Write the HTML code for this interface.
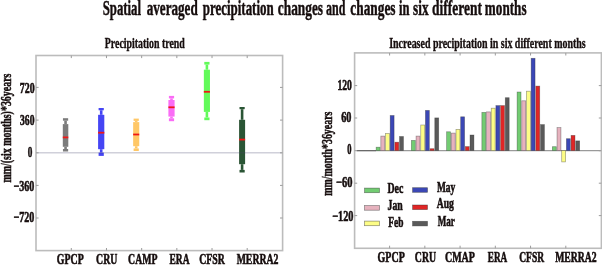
<!DOCTYPE html>
<html><head><meta charset="utf-8"><style>
html,body{margin:0;padding:0;background:#fff;width:602px;height:265px;overflow:hidden}
svg{display:block;will-change:transform}
body{-webkit-font-smoothing:antialiased}
text{font-family:"Liberation Serif",serif;font-weight:bold}
</style></head><body>
<svg width="602" height="265" viewBox="0 0 602 265">
<defs><filter id="bl" x="0" y="0" width="100%" height="100%"><feGaussianBlur stdDeviation="0.3"/></filter></defs>
<rect width="602" height="265" fill="#fff"/>
<g filter="url(#bl)">
<rect width="602" height="265" fill="#fff"/>
<text x="102.72" y="15.40" font-size="20.3" textLength="38.30" lengthAdjust="spacingAndGlyphs" fill="#160e0e" stroke="#160e0e" stroke-width="0.45">Spatial</text>
<text x="146.68" y="15.40" font-size="20.3" textLength="51.07" lengthAdjust="spacingAndGlyphs" fill="#160e0e" stroke="#160e0e" stroke-width="0.45">averaged</text>
<text x="202.74" y="15.40" font-size="20.3" textLength="70.96" lengthAdjust="spacingAndGlyphs" fill="#160e0e" stroke="#160e0e" stroke-width="0.45">precipitation</text>
<text x="277.84" y="15.40" font-size="20.3" textLength="45.18" lengthAdjust="spacingAndGlyphs" fill="#160e0e" stroke="#160e0e" stroke-width="0.45">changes</text>
<text x="326.01" y="15.40" font-size="20.3" textLength="19.32" lengthAdjust="spacingAndGlyphs" fill="#160e0e" stroke="#160e0e" stroke-width="0.45">and</text>
<text x="350.34" y="15.40" font-size="20.3" textLength="45.18" lengthAdjust="spacingAndGlyphs" fill="#160e0e" stroke="#160e0e" stroke-width="0.45">changes</text>
<text x="399.12" y="15.40" font-size="20.3" textLength="10.47" lengthAdjust="spacingAndGlyphs" fill="#160e0e" stroke="#160e0e" stroke-width="0.45">in</text>
<text x="413.10" y="15.40" font-size="20.3" textLength="15.47" lengthAdjust="spacingAndGlyphs" fill="#160e0e" stroke="#160e0e" stroke-width="0.45">six</text>
<text x="432.06" y="15.40" font-size="20.3" textLength="49.90" lengthAdjust="spacingAndGlyphs" fill="#160e0e" stroke="#160e0e" stroke-width="0.45">different</text>
<text x="484.85" y="15.40" font-size="20.3" textLength="41.67" lengthAdjust="spacingAndGlyphs" fill="#160e0e" stroke="#160e0e" stroke-width="0.45">months</text>
<text x="104.83" y="47.60" font-size="14" textLength="79.98" lengthAdjust="spacingAndGlyphs" fill="#160e0e" stroke="#160e0e" stroke-width="0.35">Precipitation trend</text>
<text x="389.17" y="47.60" font-size="14" textLength="196.58" lengthAdjust="spacingAndGlyphs" fill="#160e0e" stroke="#160e0e" stroke-width="0.35">Increased precipitation in six different months</text>
<rect x="62.95" y="118.20" width="5.2" height="2.50" fill="#7c7c7c"/>
<rect x="64.25" y="120.70" width="2.6" height="3.40" fill="#7c7c7c"/>
<rect x="62.80" y="124.10" width="5.5" height="22.70" fill="#7c7c7c"/>
<rect x="64.25" y="146.80" width="2.6" height="2.20" fill="#7c7c7c"/>
<rect x="62.95" y="149.00" width="5.2" height="2.50" fill="#7c7c7c"/>
<rect x="62.80" y="136.50" width="5.5" height="1.8" fill="#f01818"/>
<rect x="98.60" y="108.00" width="5.2" height="2.30" fill="#4444f4"/>
<rect x="99.90" y="110.30" width="2.6" height="4.50" fill="#4444f4"/>
<rect x="98.10" y="114.80" width="6.2" height="34.40" fill="#4444f4"/>
<rect x="99.90" y="149.20" width="2.6" height="3.40" fill="#4444f4"/>
<rect x="98.60" y="152.60" width="5.2" height="3.30" fill="#4444f4"/>
<rect x="98.10" y="131.80" width="6.2" height="1.8" fill="#f01818"/>
<rect x="133.60" y="118.60" width="5.2" height="2.30" fill="#ffc766"/>
<rect x="134.90" y="120.90" width="2.6" height="1.20" fill="#ffc766"/>
<rect x="133.15" y="122.10" width="6.1" height="24.10" fill="#ffc766"/>
<rect x="134.90" y="146.20" width="2.6" height="2.20" fill="#ffc766"/>
<rect x="133.60" y="148.40" width="5.2" height="2.60" fill="#ffc766"/>
<rect x="133.15" y="133.60" width="6.1" height="1.8" fill="#f01818"/>
<rect x="168.90" y="95.90" width="5.2" height="2.50" fill="#fa6cf6"/>
<rect x="170.20" y="98.40" width="2.6" height="1.60" fill="#fa6cf6"/>
<rect x="168.40" y="100.00" width="6.2" height="16.60" fill="#fa6cf6"/>
<rect x="170.20" y="116.60" width="2.6" height="1.70" fill="#fa6cf6"/>
<rect x="168.90" y="118.30" width="5.2" height="2.90" fill="#fa6cf6"/>
<rect x="168.40" y="106.40" width="6.2" height="1.8" fill="#f01818"/>
<rect x="204.30" y="61.90" width="5.2" height="2.70" fill="#62fa5a"/>
<rect x="205.60" y="64.60" width="2.6" height="5.10" fill="#62fa5a"/>
<rect x="203.85" y="69.70" width="6.1" height="42.20" fill="#62fa5a"/>
<rect x="205.60" y="111.90" width="2.6" height="5.60" fill="#62fa5a"/>
<rect x="204.30" y="117.50" width="5.2" height="2.70" fill="#62fa5a"/>
<rect x="203.85" y="90.90" width="6.1" height="1.8" fill="#f01818"/>
<rect x="239.50" y="107.00" width="5.2" height="2.20" fill="#2c5434"/>
<rect x="240.80" y="109.20" width="2.6" height="10.60" fill="#2c5434"/>
<rect x="239.10" y="119.80" width="6.0" height="44.40" fill="#2c5434"/>
<rect x="240.80" y="164.20" width="2.6" height="5.70" fill="#2c5434"/>
<rect x="239.50" y="169.90" width="5.2" height="2.60" fill="#2c5434"/>
<rect x="239.10" y="138.70" width="6.0" height="1.8" fill="#f01818"/>
<line x1="36.00" y1="152.7" x2="282.60" y2="152.7" stroke="rgb(67,67,107)" stroke-opacity="0.25" stroke-width="1.6"/>
<rect x="36.00" y="55.50" width="246.60" height="195.10" fill="none" stroke="#bcbcbc" stroke-width="1.6"/>
<line x1="71.30" y1="55.50" x2="71.30" y2="58.10" stroke="#9c9c9c" stroke-width="1"/>
<line x1="71.30" y1="250.60" x2="71.30" y2="248.00" stroke="#9c9c9c" stroke-width="1"/>
<line x1="106.48" y1="55.50" x2="106.48" y2="58.10" stroke="#9c9c9c" stroke-width="1"/>
<line x1="106.48" y1="250.60" x2="106.48" y2="248.00" stroke="#9c9c9c" stroke-width="1"/>
<line x1="141.66" y1="55.50" x2="141.66" y2="58.10" stroke="#9c9c9c" stroke-width="1"/>
<line x1="141.66" y1="250.60" x2="141.66" y2="248.00" stroke="#9c9c9c" stroke-width="1"/>
<line x1="176.84" y1="55.50" x2="176.84" y2="58.10" stroke="#9c9c9c" stroke-width="1"/>
<line x1="176.84" y1="250.60" x2="176.84" y2="248.00" stroke="#9c9c9c" stroke-width="1"/>
<line x1="212.02" y1="55.50" x2="212.02" y2="58.10" stroke="#9c9c9c" stroke-width="1"/>
<line x1="212.02" y1="250.60" x2="212.02" y2="248.00" stroke="#9c9c9c" stroke-width="1"/>
<line x1="247.20" y1="55.50" x2="247.20" y2="58.10" stroke="#9c9c9c" stroke-width="1"/>
<line x1="247.20" y1="250.60" x2="247.20" y2="248.00" stroke="#9c9c9c" stroke-width="1"/>
<line x1="36.00" y1="87.40" x2="38.60" y2="87.40" stroke="#9c9c9c" stroke-width="1"/>
<line x1="282.60" y1="87.40" x2="280.00" y2="87.40" stroke="#9c9c9c" stroke-width="1"/>
<line x1="36.00" y1="120.10" x2="38.60" y2="120.10" stroke="#9c9c9c" stroke-width="1"/>
<line x1="282.60" y1="120.10" x2="280.00" y2="120.10" stroke="#9c9c9c" stroke-width="1"/>
<line x1="36.00" y1="152.80" x2="38.60" y2="152.80" stroke="#9c9c9c" stroke-width="1"/>
<line x1="282.60" y1="152.80" x2="280.00" y2="152.80" stroke="#9c9c9c" stroke-width="1"/>
<line x1="36.00" y1="185.40" x2="38.60" y2="185.40" stroke="#9c9c9c" stroke-width="1"/>
<line x1="282.60" y1="185.40" x2="280.00" y2="185.40" stroke="#9c9c9c" stroke-width="1"/>
<line x1="36.00" y1="218.00" x2="38.60" y2="218.00" stroke="#9c9c9c" stroke-width="1"/>
<line x1="282.60" y1="218.00" x2="280.00" y2="218.00" stroke="#9c9c9c" stroke-width="1"/>
<text x="19.83" y="92.50" font-size="15" textLength="14.84" lengthAdjust="spacingAndGlyphs" fill="#160e0e" stroke="#160e0e" stroke-width="0.6">720</text>
<text x="20.04" y="125.20" font-size="15" textLength="14.43" lengthAdjust="spacingAndGlyphs" fill="#160e0e" stroke="#160e0e" stroke-width="0.6">360</text>
<text x="27.65" y="156.50" font-size="15" textLength="4.60" lengthAdjust="spacingAndGlyphs" fill="#160e0e" stroke="#160e0e" stroke-width="0.6">0</text>
<text x="13.57" y="190.90" font-size="15" textLength="20.81" lengthAdjust="spacingAndGlyphs" fill="#160e0e" stroke="#160e0e" stroke-width="0.6">−360</text>
<text x="13.57" y="222.40" font-size="15" textLength="20.81" lengthAdjust="spacingAndGlyphs" fill="#160e0e" stroke="#160e0e" stroke-width="0.6">−720</text>
<text x="56.82" y="263.60" font-size="15" textLength="26.86" lengthAdjust="spacingAndGlyphs" fill="#160e0e" stroke="#160e0e" stroke-width="0.6">GPCP</text>
<text x="96.12" y="263.60" font-size="15" textLength="21.22" lengthAdjust="spacingAndGlyphs" fill="#160e0e" stroke="#160e0e" stroke-width="0.6">CRU</text>
<text x="128.12" y="263.60" font-size="15" textLength="29.36" lengthAdjust="spacingAndGlyphs" fill="#160e0e" stroke="#160e0e" stroke-width="0.6">CAMP</text>
<text x="169.54" y="263.60" font-size="15" textLength="20.03" lengthAdjust="spacingAndGlyphs" fill="#160e0e" stroke="#160e0e" stroke-width="0.6">ERA</text>
<text x="199.22" y="263.60" font-size="15" textLength="25.59" lengthAdjust="spacingAndGlyphs" fill="#160e0e" stroke="#160e0e" stroke-width="0.6">CFSR</text>
<text x="236.63" y="263.60" font-size="15" textLength="41.89" lengthAdjust="spacingAndGlyphs" fill="#160e0e" stroke="#160e0e" stroke-width="0.6">MERRA2</text>
<text transform="translate(11.20,182.30) rotate(-90)" x="-0.27" y="0" font-size="14.5" textLength="109.01" lengthAdjust="spacingAndGlyphs" fill="#160e0e" stroke="#160e0e" stroke-width="0.5">mm/(six months)*36years</text>
<line x1="356.8" y1="150.6" x2="601.4" y2="150.6" stroke="#9a9a9a" stroke-width="1.1"/>
<line x1="356.8" y1="150.6" x2="376" y2="150.6" stroke="#6a6a6a" stroke-width="1.2"/>
<rect x="376.15" y="147.20" width="3.9" height="3.40" fill="#72cc72" stroke="rgba(40,40,40,0.45)" stroke-width="0.7"/>
<rect x="380.83" y="136.10" width="3.9" height="14.50" fill="#e6b2be" stroke="rgba(40,40,40,0.45)" stroke-width="0.7"/>
<rect x="385.51" y="133.50" width="3.9" height="17.10" fill="#fdfd86" stroke="rgba(40,40,40,0.45)" stroke-width="0.7"/>
<rect x="390.19" y="115.50" width="3.9" height="35.10" fill="#3b47b6" stroke="rgba(40,40,40,0.45)" stroke-width="0.7"/>
<rect x="394.87" y="142.20" width="3.9" height="8.40" fill="#e02626" stroke="rgba(40,40,40,0.45)" stroke-width="0.7"/>
<rect x="399.55" y="136.50" width="3.9" height="14.10" fill="#5a5a5a" stroke="rgba(40,40,40,0.45)" stroke-width="0.7"/>
<rect x="411.39" y="140.40" width="3.9" height="10.20" fill="#72cc72" stroke="rgba(40,40,40,0.45)" stroke-width="0.7"/>
<rect x="416.07" y="136.10" width="3.9" height="14.50" fill="#e6b2be" stroke="rgba(40,40,40,0.45)" stroke-width="0.7"/>
<rect x="420.75" y="125.00" width="3.9" height="25.60" fill="#fdfd86" stroke="rgba(40,40,40,0.45)" stroke-width="0.7"/>
<rect x="425.43" y="110.40" width="3.9" height="40.20" fill="#3b47b6" stroke="rgba(40,40,40,0.45)" stroke-width="0.7"/>
<rect x="430.11" y="148.70" width="3.9" height="1.90" fill="#e02626" stroke="rgba(40,40,40,0.45)" stroke-width="0.7"/>
<rect x="434.79" y="117.90" width="3.9" height="32.70" fill="#5a5a5a" stroke="rgba(40,40,40,0.45)" stroke-width="0.7"/>
<rect x="446.63" y="131.80" width="3.9" height="18.80" fill="#72cc72" stroke="rgba(40,40,40,0.45)" stroke-width="0.7"/>
<rect x="451.31" y="133.10" width="3.9" height="17.50" fill="#e6b2be" stroke="rgba(40,40,40,0.45)" stroke-width="0.7"/>
<rect x="455.99" y="129.40" width="3.9" height="21.20" fill="#fdfd86" stroke="rgba(40,40,40,0.45)" stroke-width="0.7"/>
<rect x="460.67" y="116.80" width="3.9" height="33.80" fill="#3b47b6" stroke="rgba(40,40,40,0.45)" stroke-width="0.7"/>
<rect x="465.35" y="146.60" width="3.9" height="4.00" fill="#e02626" stroke="rgba(40,40,40,0.45)" stroke-width="0.7"/>
<rect x="470.03" y="135.00" width="3.9" height="15.60" fill="#5a5a5a" stroke="rgba(40,40,40,0.45)" stroke-width="0.7"/>
<rect x="481.87" y="112.40" width="3.9" height="38.20" fill="#72cc72" stroke="rgba(40,40,40,0.45)" stroke-width="0.7"/>
<rect x="486.55" y="111.90" width="3.9" height="38.70" fill="#e6b2be" stroke="rgba(40,40,40,0.45)" stroke-width="0.7"/>
<rect x="491.23" y="108.20" width="3.9" height="42.40" fill="#fdfd86" stroke="rgba(40,40,40,0.45)" stroke-width="0.7"/>
<rect x="495.91" y="105.60" width="3.9" height="45.00" fill="#3b47b6" stroke="rgba(40,40,40,0.45)" stroke-width="0.7"/>
<rect x="500.59" y="105.60" width="3.9" height="45.00" fill="#e02626" stroke="rgba(40,40,40,0.45)" stroke-width="0.7"/>
<rect x="505.27" y="97.70" width="3.9" height="52.90" fill="#5a5a5a" stroke="rgba(40,40,40,0.45)" stroke-width="0.7"/>
<rect x="517.11" y="92.00" width="3.9" height="58.60" fill="#72cc72" stroke="rgba(40,40,40,0.45)" stroke-width="0.7"/>
<rect x="521.79" y="100.80" width="3.9" height="49.80" fill="#e6b2be" stroke="rgba(40,40,40,0.45)" stroke-width="0.7"/>
<rect x="526.47" y="91.20" width="3.9" height="59.40" fill="#fdfd86" stroke="rgba(40,40,40,0.45)" stroke-width="0.7"/>
<rect x="531.15" y="58.30" width="3.9" height="92.30" fill="#3b47b6" stroke="rgba(40,40,40,0.45)" stroke-width="0.7"/>
<rect x="535.83" y="86.10" width="3.9" height="64.50" fill="#e02626" stroke="rgba(40,40,40,0.45)" stroke-width="0.7"/>
<rect x="540.51" y="124.60" width="3.9" height="26.00" fill="#5a5a5a" stroke="rgba(40,40,40,0.45)" stroke-width="0.7"/>
<rect x="552.35" y="146.70" width="3.9" height="3.90" fill="#72cc72" stroke="rgba(40,40,40,0.45)" stroke-width="0.7"/>
<rect x="557.03" y="127.60" width="3.9" height="23.00" fill="#e6b2be" stroke="rgba(40,40,40,0.45)" stroke-width="0.7"/>
<rect x="561.71" y="150.60" width="3.9" height="11.30" fill="#fdfd86" stroke="rgba(40,40,40,0.45)" stroke-width="0.7"/>
<rect x="566.39" y="138.70" width="3.9" height="11.90" fill="#3b47b6" stroke="rgba(40,40,40,0.45)" stroke-width="0.7"/>
<rect x="571.07" y="135.40" width="3.9" height="15.20" fill="#e02626" stroke="rgba(40,40,40,0.45)" stroke-width="0.7"/>
<rect x="575.75" y="140.90" width="3.9" height="9.70" fill="#5a5a5a" stroke="rgba(40,40,40,0.45)" stroke-width="0.7"/>
<rect x="354.60" y="52.90" width="246.80" height="195.40" fill="none" stroke="#bcbcbc" stroke-width="1.6"/>
<line x1="389.60" y1="52.90" x2="389.60" y2="55.50" stroke="#9c9c9c" stroke-width="1"/>
<line x1="389.60" y1="248.30" x2="389.60" y2="245.70" stroke="#9c9c9c" stroke-width="1"/>
<line x1="424.84" y1="52.90" x2="424.84" y2="55.50" stroke="#9c9c9c" stroke-width="1"/>
<line x1="424.84" y1="248.30" x2="424.84" y2="245.70" stroke="#9c9c9c" stroke-width="1"/>
<line x1="460.08" y1="52.90" x2="460.08" y2="55.50" stroke="#9c9c9c" stroke-width="1"/>
<line x1="460.08" y1="248.30" x2="460.08" y2="245.70" stroke="#9c9c9c" stroke-width="1"/>
<line x1="495.32" y1="52.90" x2="495.32" y2="55.50" stroke="#9c9c9c" stroke-width="1"/>
<line x1="495.32" y1="248.30" x2="495.32" y2="245.70" stroke="#9c9c9c" stroke-width="1"/>
<line x1="530.56" y1="52.90" x2="530.56" y2="55.50" stroke="#9c9c9c" stroke-width="1"/>
<line x1="530.56" y1="248.30" x2="530.56" y2="245.70" stroke="#9c9c9c" stroke-width="1"/>
<line x1="565.80" y1="52.90" x2="565.80" y2="55.50" stroke="#9c9c9c" stroke-width="1"/>
<line x1="565.80" y1="248.30" x2="565.80" y2="245.70" stroke="#9c9c9c" stroke-width="1"/>
<line x1="354.60" y1="85.60" x2="357.20" y2="85.60" stroke="#9c9c9c" stroke-width="1"/>
<line x1="601.40" y1="85.60" x2="598.80" y2="85.60" stroke="#9c9c9c" stroke-width="1"/>
<line x1="354.60" y1="118.00" x2="357.20" y2="118.00" stroke="#9c9c9c" stroke-width="1"/>
<line x1="601.40" y1="118.00" x2="598.80" y2="118.00" stroke="#9c9c9c" stroke-width="1"/>
<line x1="354.60" y1="150.70" x2="357.20" y2="150.70" stroke="#9c9c9c" stroke-width="1"/>
<line x1="601.40" y1="150.70" x2="598.80" y2="150.70" stroke="#9c9c9c" stroke-width="1"/>
<line x1="354.60" y1="183.20" x2="357.20" y2="183.20" stroke="#9c9c9c" stroke-width="1"/>
<line x1="601.40" y1="183.20" x2="598.80" y2="183.20" stroke="#9c9c9c" stroke-width="1"/>
<line x1="354.60" y1="215.60" x2="357.20" y2="215.60" stroke="#9c9c9c" stroke-width="1"/>
<line x1="601.40" y1="215.60" x2="598.80" y2="215.60" stroke="#9c9c9c" stroke-width="1"/>
<text x="337.43" y="90.00" font-size="15" textLength="14.44" lengthAdjust="spacingAndGlyphs" fill="#160e0e" stroke="#160e0e" stroke-width="0.6">120</text>
<text x="341.15" y="122.30" font-size="15" textLength="10.24" lengthAdjust="spacingAndGlyphs" fill="#160e0e" stroke="#160e0e" stroke-width="0.6">60</text>
<text x="347.28" y="154.10" font-size="15" textLength="4.25" lengthAdjust="spacingAndGlyphs" fill="#160e0e" stroke="#160e0e" stroke-width="0.6">0</text>
<text x="335.95" y="187.10" font-size="15" textLength="16.45" lengthAdjust="spacingAndGlyphs" fill="#160e0e" stroke="#160e0e" stroke-width="0.6">−60</text>
<text x="332.16" y="220.90" font-size="15" textLength="21.34" lengthAdjust="spacingAndGlyphs" fill="#160e0e" stroke="#160e0e" stroke-width="0.6">−120</text>
<text x="377.61" y="261.50" font-size="15" textLength="27.17" lengthAdjust="spacingAndGlyphs" fill="#160e0e" stroke="#160e0e" stroke-width="0.6">GPCP</text>
<text x="414.82" y="261.50" font-size="15" textLength="21.22" lengthAdjust="spacingAndGlyphs" fill="#160e0e" stroke="#160e0e" stroke-width="0.6">CRU</text>
<text x="444.91" y="261.50" font-size="15" textLength="30.07" lengthAdjust="spacingAndGlyphs" fill="#160e0e" stroke="#160e0e" stroke-width="0.6">CMAP</text>
<text x="487.74" y="261.50" font-size="15" textLength="19.53" lengthAdjust="spacingAndGlyphs" fill="#160e0e" stroke="#160e0e" stroke-width="0.6">ERA</text>
<text x="519.23" y="261.50" font-size="15" textLength="24.88" lengthAdjust="spacingAndGlyphs" fill="#160e0e" stroke="#160e0e" stroke-width="0.6">CFSR</text>
<text x="555.13" y="261.50" font-size="15" textLength="41.48" lengthAdjust="spacingAndGlyphs" fill="#160e0e" stroke="#160e0e" stroke-width="0.6">MERRA2</text>
<text transform="translate(331.60,195.60) rotate(-90)" x="-0.27" y="0" font-size="14.5" textLength="84.31" lengthAdjust="spacingAndGlyphs" fill="#160e0e" stroke="#160e0e" stroke-width="0.5">mm/month*36years</text>
<rect x="364.60" y="188.10" width="14.9" height="4.6" fill="#72cc72" stroke="rgba(40,40,40,0.55)" stroke-width="0.7"/>
<text x="387.43" y="193.10" font-size="15" textLength="15.82" lengthAdjust="spacingAndGlyphs" fill="#160e0e" stroke="#160e0e" stroke-width="0.6">Dec</text>
<rect x="364.60" y="205.60" width="14.9" height="4.6" fill="#e6b2be" stroke="rgba(40,40,40,0.55)" stroke-width="0.7"/>
<text x="387.57" y="210.30" font-size="15" textLength="15.18" lengthAdjust="spacingAndGlyphs" fill="#160e0e" stroke="#160e0e" stroke-width="0.6">Jan</text>
<rect x="364.60" y="221.10" width="14.9" height="4.6" fill="#fdfd86" stroke="rgba(40,40,40,0.55)" stroke-width="0.7"/>
<text x="388.24" y="227.10" font-size="15" textLength="15.14" lengthAdjust="spacingAndGlyphs" fill="#160e0e" stroke="#160e0e" stroke-width="0.6">Feb</text>
<rect x="412.60" y="187.70" width="14.9" height="4.6" fill="#3b47b6" stroke="rgba(40,40,40,0.55)" stroke-width="0.7"/>
<text x="436.94" y="191.80" font-size="15" textLength="18.35" lengthAdjust="spacingAndGlyphs" fill="#160e0e" stroke="#160e0e" stroke-width="0.6">May</text>
<rect x="412.60" y="205.00" width="14.9" height="4.6" fill="#e02626" stroke="rgba(40,40,40,0.55)" stroke-width="0.7"/>
<text x="436.81" y="207.60" font-size="15" textLength="17.09" lengthAdjust="spacingAndGlyphs" fill="#160e0e" stroke="#160e0e" stroke-width="0.6">Aug</text>
<rect x="412.60" y="221.30" width="14.9" height="4.6" fill="#5a5a5a" stroke="rgba(40,40,40,0.55)" stroke-width="0.7"/>
<text x="437.74" y="225.80" font-size="15" textLength="17.15" lengthAdjust="spacingAndGlyphs" fill="#160e0e" stroke="#160e0e" stroke-width="0.6">Mar</text>
</g>
</svg>
</body></html>
